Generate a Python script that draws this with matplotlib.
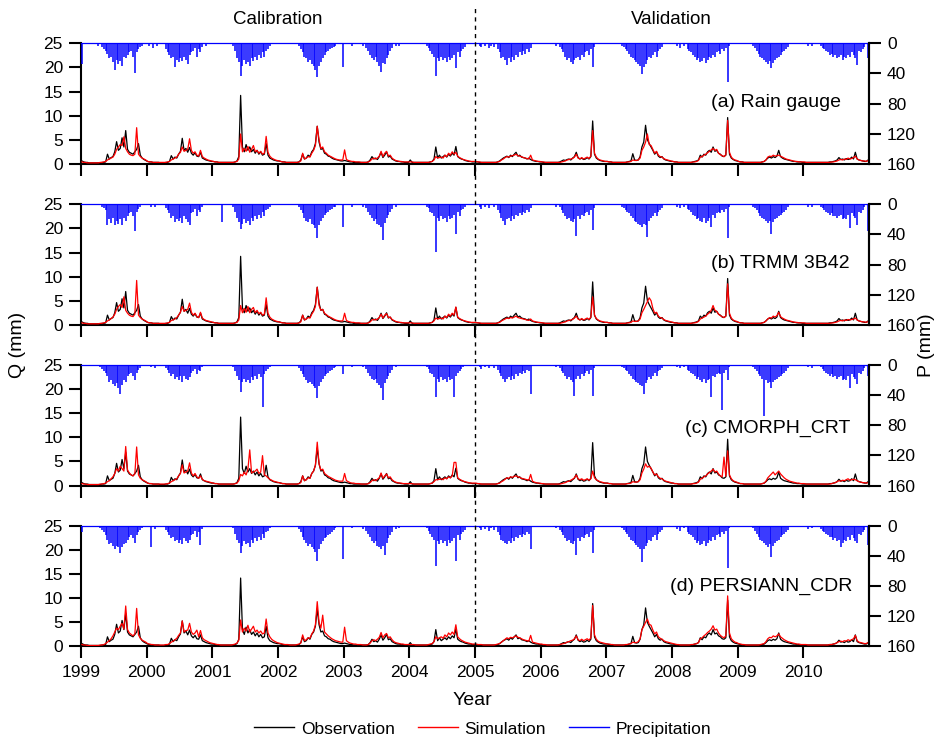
import numpy as np
import matplotlib
matplotlib.use("Agg")
import matplotlib.pyplot as plt
from matplotlib.lines import Line2D
from matplotlib import transforms

plt.rcParams['font.family'] = ['Liberation Sans', 'DejaVu Sans']

# ---------------------------------------------------------------------------
# Data: dekadal (10-day) series, one row of 36 values per year 1999-2010
# ---------------------------------------------------------------------------
years = np.arange(1999, 2011)
year_labels = [str(y) for y in years]
q_ticks = [0, 5, 10, 15, 20, 25]
p_ticks = [0, 40, 80, 120, 160]
panel_titles = ["(a) Rain gauge", "(b) TRMM 3B42", "(c) CMORPH_CRT", "(d) PERSIANN_CDR"]
period_names = ["Calibration", "Validation"]
split_year = 2005

# observed streamflow Q (mm)
q_obs = [
    [0.6,0.4,0.3,0.3,0.2,0.2,0.2,0.2,0.2,0.2,0.2,0.3,0.3,0.4,2.0,1.0,1.3,1.5,2.5,4.6,2.8,3.2,5.4,3.5,6.9,3.0,2.4,2.2,2.0,2.5,3.0,4.2,1.8,1.2,0.9,0.7],
    [0.5,0.4,0.4,0.3,0.3,0.3,0.3,0.2,0.2,0.2,0.3,0.3,0.5,1.7,1.0,1.4,1.2,2.0,2.6,5.3,2.8,3.2,2.4,3.4,2.2,1.8,2.3,1.6,1.5,2.4,1.2,1.0,0.8,0.7,0.6,0.5],
    [0.5,0.4,0.4,0.3,0.3,0.3,0.3,0.3,0.3,0.3,0.3,0.3,0.4,0.6,1.5,14.2,3.5,2.5,4.0,2.8,3.5,2.5,3.0,2.2,2.8,2.0,2.5,1.8,2.0,4.2,1.8,1.2,1.0,0.8,0.7,0.6],
    [0.6,0.5,0.4,0.4,0.3,0.3,0.3,0.3,0.3,0.3,0.3,0.4,0.8,2.0,1.0,1.2,1.8,1.5,2.5,3.0,4.2,7.8,4.5,3.0,3.2,2.2,2.0,1.6,1.5,1.2,1.0,0.9,0.8,0.7,0.6,0.6],
    [0.7,0.6,0.5,0.4,0.4,0.3,0.3,0.3,0.3,0.3,0.3,0.3,0.3,0.4,0.8,1.5,1.0,1.2,0.9,1.5,2.4,1.3,1.8,2.5,1.4,1.6,1.0,0.8,0.6,0.5,0.5,0.4,0.4,0.3,0.3,0.3],
    [0.8,0.3,0.3,0.3,0.3,0.3,0.3,0.3,0.3,0.3,0.3,0.4,0.5,1.0,3.5,1.2,1.8,1.2,1.5,1.8,1.4,2.0,1.6,2.2,1.8,3.6,1.5,1.2,1.0,0.9,0.7,0.6,0.5,0.5,0.4,0.4],
    [0.4,0.4,0.3,0.3,0.3,0.3,0.3,0.3,0.3,0.3,0.3,0.3,0.4,0.6,0.9,1.2,1.4,1.6,1.3,1.8,1.5,2.0,2.4,1.6,1.8,1.4,1.3,1.2,1.0,1.2,0.9,0.7,0.6,0.5,0.5,0.4],
    [0.4,0.3,0.3,0.3,0.3,0.3,0.3,0.3,0.3,0.3,0.4,0.6,0.8,0.7,0.9,1.0,0.8,1.2,1.5,2.4,1.3,1.0,1.2,0.9,1.0,1.3,1.0,1.5,8.9,2.0,1.2,0.9,0.7,0.6,0.5,0.5],
    [0.5,0.4,0.4,0.3,0.3,0.3,0.3,0.3,0.3,0.3,0.3,0.4,0.5,0.6,2.1,0.8,0.7,0.8,1.5,3.5,4.5,8.0,5.0,4.2,3.5,2.8,2.0,2.5,1.6,1.3,1.5,1.0,0.8,0.7,0.6,0.5],
    [0.5,0.4,0.4,0.3,0.3,0.3,0.3,0.3,0.3,0.3,0.3,0.4,0.5,0.6,0.8,1.8,1.4,2.0,1.8,2.5,2.8,2.4,3.5,2.6,2.8,2.2,2.0,1.6,1.5,1.8,9.6,2.0,1.2,0.9,0.7,0.6],
    [0.5,0.4,0.4,0.3,0.3,0.3,0.3,0.3,0.3,0.3,0.3,0.3,0.3,0.4,0.5,0.8,1.2,1.4,1.2,1.5,1.3,1.6,2.8,1.5,1.2,1.0,0.9,0.8,0.7,0.6,0.5,0.5,0.4,0.4,0.4,0.3],
    [0.3,0.3,0.3,0.3,0.3,0.3,0.3,0.3,0.3,0.3,0.3,0.3,0.3,0.3,0.4,0.4,0.5,0.6,0.8,1.3,0.9,1.0,0.8,1.1,0.9,1.0,1.4,1.0,2.4,1.0,0.8,0.7,0.6,0.5,0.5,0.8],
]

# simulated streamflow Q (mm) driven by each precipitation product
q_sim_gauge = [
    [0.4,0.3,0.3,0.2,0.2,0.2,0.2,0.2,0.2,0.2,0.3,0.3,0.4,0.5,0.8,1.0,1.2,1.4,2.0,3.0,3.5,4.0,3.8,5.6,3.2,2.5,2.0,1.8,1.7,2.0,7.5,2.0,1.5,1.2,1.0,0.8],
    [0.5,0.4,0.4,0.3,0.3,0.3,0.3,0.3,0.3,0.3,0.3,0.4,0.5,0.8,1.0,1.2,1.4,2.0,2.4,3.5,2.6,2.8,3.0,5.2,2.8,2.2,2.5,1.8,1.6,2.8,1.5,1.2,1.0,0.8,0.7,0.6],
    [0.5,0.4,0.4,0.3,0.3,0.3,0.3,0.3,0.3,0.3,0.3,0.3,0.4,0.5,1.0,6.2,2.5,3.2,2.6,3.6,2.4,3.0,3.8,2.5,2.8,2.2,2.6,2.0,2.2,5.7,2.4,1.6,1.2,1.0,0.8,0.7],
    [0.6,0.5,0.4,0.4,0.3,0.3,0.3,0.3,0.3,0.3,0.3,0.4,0.6,2.2,1.0,1.2,1.5,1.4,2.2,2.8,3.8,7.8,5.0,3.2,3.5,2.5,2.2,1.8,1.6,1.4,1.2,1.0,0.9,0.8,0.8,0.8],
    [2.9,0.9,0.7,0.6,0.5,0.5,0.4,0.4,0.4,0.3,0.3,0.3,0.3,0.4,0.6,1.0,1.2,1.0,1.2,1.6,2.6,1.5,2.2,2.6,1.6,1.8,1.2,0.9,0.7,0.6,0.5,0.5,0.4,0.4,0.4,0.4],
    [0.4,0.4,0.3,0.3,0.3,0.3,0.3,0.3,0.3,0.3,0.3,0.4,0.5,0.8,1.5,1.2,1.3,1.4,1.2,1.8,1.5,2.2,1.8,2.5,2.0,2.4,1.6,1.3,1.1,0.9,0.8,0.7,0.6,0.5,0.5,0.5],
    [0.5,0.4,0.4,0.3,0.3,0.3,0.3,0.3,0.3,0.3,0.3,0.3,0.4,0.5,0.8,1.0,1.3,1.5,1.4,1.6,1.7,1.8,2.0,1.7,1.6,1.5,1.3,1.2,1.1,1.0,1.8,0.8,0.7,0.6,0.5,0.5],
    [0.4,0.4,0.3,0.3,0.3,0.3,0.3,0.3,0.3,0.3,0.3,0.4,0.5,0.6,0.8,0.9,1.0,1.1,1.4,2.0,1.2,1.0,1.3,1.0,1.2,1.4,1.1,1.6,6.9,2.2,1.4,1.0,0.8,0.7,0.6,0.5],
    [0.5,0.4,0.4,0.3,0.3,0.3,0.3,0.3,0.3,0.3,0.3,0.4,0.4,0.5,0.8,0.7,0.7,0.8,1.2,2.8,3.5,4.5,6.2,4.0,3.8,3.0,2.2,2.6,1.8,1.5,1.4,1.1,0.9,0.8,0.7,0.6],
    [0.5,0.4,0.4,0.3,0.3,0.3,0.3,0.3,0.3,0.3,0.3,0.4,0.4,0.5,0.7,1.4,1.5,1.8,2.0,2.3,2.6,2.9,3.2,2.8,3.0,2.2,1.9,1.7,1.5,1.9,9.0,2.4,1.4,1.0,0.8,0.7],
    [0.5,0.4,0.4,0.3,0.3,0.3,0.3,0.3,0.3,0.3,0.3,0.3,0.3,0.4,0.5,0.8,1.4,1.6,1.5,1.8,1.6,1.7,1.8,1.6,1.4,1.2,1.0,0.9,0.8,0.7,0.6,0.5,0.5,0.4,0.4,0.4],
    [0.4,0.3,0.3,0.3,0.3,0.3,0.3,0.3,0.3,0.3,0.3,0.3,0.3,0.3,0.3,0.4,0.4,0.5,0.6,0.8,0.9,0.8,1.0,0.9,1.2,1.0,1.1,1.3,1.6,1.0,0.8,0.7,0.6,0.6,0.5,0.7],
]

q_sim_trmm = [
    [0.4,0.3,0.3,0.2,0.2,0.2,0.2,0.2,0.2,0.2,0.3,0.3,0.4,0.5,0.8,1.0,1.3,1.6,2.2,3.2,3.8,4.2,3.6,5.8,3.0,2.4,2.0,1.8,1.7,2.2,9.2,2.0,1.5,1.2,1.0,0.8],
    [0.5,0.4,0.4,0.3,0.3,0.3,0.3,0.3,0.3,0.3,0.3,0.4,0.5,0.9,1.0,1.2,1.5,2.0,2.6,3.8,2.8,3.0,3.2,4.5,2.6,2.0,2.4,1.7,1.5,2.6,1.4,1.1,0.9,0.8,0.7,0.6],
    [0.5,0.4,0.4,0.3,0.3,0.3,0.3,0.3,0.3,0.3,0.3,0.3,0.4,0.5,1.0,4.0,2.5,3.4,2.6,3.8,2.5,3.2,3.6,2.5,3.0,2.3,2.6,2.0,2.2,5.6,2.4,1.6,1.2,1.0,0.8,0.7],
    [0.6,0.5,0.4,0.4,0.3,0.3,0.3,0.3,0.3,0.3,0.3,0.4,0.6,2.0,1.0,1.2,1.5,1.4,2.2,2.8,3.8,7.8,4.0,3.0,3.2,2.4,2.1,1.8,1.6,1.4,1.2,1.0,0.9,0.8,0.8,0.8],
    [2.4,0.9,0.7,0.6,0.5,0.5,0.4,0.4,0.4,0.3,0.3,0.3,0.3,0.4,0.6,1.0,1.1,1.0,1.2,1.5,2.2,1.4,2.0,2.3,1.5,1.6,1.1,0.9,0.7,0.6,0.5,0.5,0.4,0.4,0.4,0.4],
    [0.4,0.4,0.3,0.3,0.3,0.3,0.3,0.3,0.3,0.3,0.3,0.4,0.5,0.8,1.4,1.2,1.3,1.4,1.2,1.8,1.5,2.2,1.8,2.4,2.0,3.7,1.6,1.3,1.1,0.9,0.8,0.7,0.6,0.5,0.5,0.5],
    [0.5,0.4,0.4,0.3,0.3,0.3,0.3,0.3,0.3,0.3,0.3,0.3,0.4,0.5,0.8,1.0,1.2,1.4,1.3,1.5,1.4,1.6,1.8,1.5,1.4,1.3,1.2,1.1,1.0,0.9,1.2,0.8,0.7,0.6,0.5,0.5],
    [0.4,0.4,0.3,0.3,0.3,0.3,0.3,0.3,0.3,0.3,0.3,0.4,0.5,0.6,0.8,0.9,1.0,1.1,1.4,1.8,1.2,1.0,1.3,1.0,1.2,1.4,1.1,1.6,5.8,2.0,1.3,1.0,0.8,0.7,0.6,0.5],
    [0.5,0.4,0.4,0.3,0.3,0.3,0.3,0.3,0.3,0.3,0.3,0.4,0.4,0.5,0.8,0.7,0.7,0.8,1.2,2.5,3.2,4.0,4.8,5.6,5.0,3.4,2.4,2.6,1.8,1.5,1.4,1.1,0.9,0.8,0.7,0.6],
    [0.5,0.4,0.4,0.3,0.3,0.3,0.3,0.3,0.3,0.3,0.3,0.4,0.4,0.5,0.7,1.2,1.4,1.6,1.8,2.2,2.5,3.0,4.0,3.0,2.8,2.2,1.9,1.7,1.5,1.8,8.5,2.4,1.4,1.0,0.8,0.7],
    [0.5,0.4,0.4,0.3,0.3,0.3,0.3,0.3,0.3,0.3,0.3,0.3,0.3,0.4,0.5,0.8,1.2,1.5,1.4,1.8,1.6,1.9,2.6,1.7,1.4,1.2,1.0,0.9,0.8,0.7,0.6,0.5,0.5,0.4,0.4,0.4],
    [0.4,0.3,0.3,0.3,0.3,0.3,0.3,0.3,0.3,0.3,0.3,0.3,0.3,0.3,0.3,0.4,0.4,0.5,0.6,0.8,0.9,0.8,1.0,0.9,1.1,1.0,1.1,1.2,1.4,1.0,0.8,0.7,0.6,0.6,0.5,0.7],
]

q_sim_cmorph = [
    [0.4,0.3,0.3,0.2,0.2,0.2,0.2,0.2,0.2,0.2,0.3,0.3,0.4,0.5,0.8,1.0,1.4,1.8,2.5,3.5,3.0,4.0,3.5,3.0,8.1,3.2,2.6,2.2,2.0,2.4,8.0,2.2,1.5,1.2,1.0,0.8],
    [0.5,0.4,0.4,0.3,0.3,0.3,0.3,0.3,0.3,0.3,0.3,0.4,0.5,0.8,1.0,1.2,1.4,2.0,2.5,4.3,2.6,2.8,3.0,4.7,2.6,2.0,2.5,1.8,1.5,2.0,1.3,1.0,0.9,0.8,0.7,0.6],
    [0.5,0.4,0.4,0.3,0.3,0.3,0.3,0.3,0.3,0.3,0.3,0.3,0.4,0.5,1.0,2.3,2.0,2.8,2.2,3.4,7.4,2.6,2.8,3.0,3.4,2.5,2.8,6.2,2.2,2.0,1.6,1.3,1.1,0.9,0.8,0.7],
    [0.6,0.5,0.4,0.4,0.3,0.3,0.3,0.3,0.3,0.3,0.3,0.4,0.6,2.0,1.0,1.2,1.6,1.5,2.5,3.0,4.2,9.0,4.5,3.2,3.4,2.5,2.2,1.9,1.7,1.5,1.3,1.1,1.0,0.9,0.9,0.9],
    [2.5,1.0,0.8,0.6,0.5,0.5,0.4,0.4,0.4,0.3,0.3,0.3,0.3,0.4,0.6,1.0,1.2,1.0,1.3,1.6,2.6,1.5,2.0,2.4,1.6,1.8,1.2,0.9,0.7,0.6,0.5,0.5,0.4,0.4,0.4,0.4],
    [0.4,0.4,0.3,0.3,0.3,0.3,0.3,0.3,0.3,0.3,0.3,0.4,0.5,0.8,1.2,1.2,1.3,1.4,1.2,1.6,1.4,1.8,1.6,2.0,4.8,4.8,1.6,1.3,1.1,0.9,0.8,0.7,0.6,0.5,0.5,0.5],
    [0.5,0.4,0.4,0.3,0.3,0.3,0.3,0.3,0.3,0.3,0.3,0.3,0.4,0.5,0.8,1.0,1.3,1.6,1.5,1.8,1.7,1.9,2.0,1.8,1.7,1.5,1.4,1.3,1.2,1.1,2.3,0.9,0.7,0.6,0.5,0.5],
    [0.4,0.4,0.3,0.3,0.3,0.3,0.3,0.3,0.3,0.3,0.3,0.4,0.5,0.6,0.8,0.9,1.1,1.3,1.6,2.2,1.4,1.2,1.4,1.1,1.2,1.4,1.1,1.4,3.0,1.6,1.2,1.0,0.8,0.7,0.6,0.5],
    [0.5,0.4,0.4,0.3,0.3,0.3,0.3,0.3,0.3,0.3,0.3,0.4,0.4,0.5,0.8,0.7,0.7,0.8,1.2,2.6,3.4,4.5,3.8,4.0,3.6,2.8,2.2,2.4,1.8,1.5,1.4,1.1,0.9,0.8,0.7,0.6],
    [0.5,0.4,0.4,0.3,0.3,0.3,0.3,0.3,0.3,0.3,0.3,0.4,0.4,0.5,0.7,1.3,1.5,1.8,2.0,2.4,2.7,3.0,3.4,2.8,3.0,2.4,2.0,1.8,5.9,1.9,7.2,2.2,1.4,1.0,0.8,0.7],
    [0.5,0.4,0.4,0.3,0.3,0.3,0.3,0.3,0.3,0.3,0.3,0.3,0.3,0.4,0.5,0.9,1.6,2.0,2.4,2.8,2.2,2.6,3.0,2.4,2.0,1.6,1.3,1.1,0.9,0.8,0.7,0.6,0.5,0.5,0.4,0.4],
    [0.4,0.3,0.3,0.3,0.3,0.3,0.3,0.3,0.3,0.3,0.3,0.3,0.3,0.3,0.3,0.4,0.5,0.6,0.8,1.0,0.9,1.1,1.0,1.2,1.4,1.1,1.2,1.3,1.2,1.0,0.8,0.7,0.6,0.6,0.5,0.6],
]

q_sim_persiann = [
    [0.4,0.3,0.3,0.2,0.2,0.2,0.2,0.2,0.2,0.2,0.3,0.3,0.4,0.6,0.9,1.2,1.6,2.2,3.0,3.8,3.5,4.2,4.8,3.6,8.4,3.5,2.8,2.5,2.2,2.6,7.9,2.4,1.7,1.3,1.1,0.9],
    [0.6,0.5,0.4,0.4,0.3,0.3,0.3,0.3,0.3,0.3,0.4,0.4,0.6,0.9,1.1,1.4,1.7,2.3,2.8,5.3,3.0,3.3,3.4,4.8,3.0,2.5,2.8,3.4,2.0,3.3,1.8,1.4,1.2,1.0,0.8,0.7],
    [0.6,0.5,0.4,0.4,0.3,0.3,0.3,0.3,0.3,0.3,0.3,0.4,0.5,0.7,1.3,5.5,3.0,3.8,3.2,4.4,3.0,3.6,4.2,3.0,3.4,2.8,3.2,2.6,2.8,5.7,2.8,2.0,1.5,1.2,1.0,0.8],
    [0.7,0.6,0.5,0.4,0.4,0.4,0.3,0.3,0.3,0.3,0.4,0.5,0.7,2.4,1.2,1.4,1.8,1.7,2.6,3.2,4.5,9.3,5.0,3.8,6.5,3.0,2.6,2.2,1.9,1.6,1.4,1.2,1.1,1.0,0.9,0.9],
    [4.0,1.2,0.9,0.7,0.6,0.5,0.5,0.4,0.4,0.4,0.3,0.3,0.3,0.4,0.7,1.2,1.4,1.2,1.5,1.9,2.9,1.8,2.4,2.7,1.8,2.0,1.4,1.0,0.8,0.7,0.6,0.5,0.5,0.4,0.4,0.4],
    [0.4,0.4,0.4,0.3,0.3,0.3,0.3,0.3,0.3,0.3,0.4,0.5,0.6,1.0,2.0,1.6,1.8,2.0,1.7,2.4,2.0,2.8,2.4,3.0,2.5,4.5,2.0,1.6,1.3,1.1,0.9,0.8,0.7,0.6,0.5,0.5],
    [0.5,0.4,0.4,0.4,0.3,0.3,0.3,0.3,0.3,0.3,0.3,0.4,0.5,0.6,0.9,1.2,1.5,1.8,1.6,1.9,1.8,2.0,2.2,1.9,1.8,1.6,1.4,1.3,1.2,1.1,2.3,0.9,0.8,0.7,0.6,0.5],
    [0.5,0.4,0.4,0.3,0.3,0.3,0.3,0.3,0.3,0.3,0.4,0.5,0.6,0.7,0.9,1.0,1.2,1.3,1.6,2.2,1.4,1.2,1.5,1.2,1.4,1.6,1.3,1.8,8.5,2.4,1.5,1.1,0.9,0.8,0.7,0.6],
    [0.5,0.5,0.4,0.4,0.3,0.3,0.3,0.3,0.3,0.3,0.4,0.4,0.5,0.6,0.9,0.8,0.8,1.0,1.6,3.5,4.2,5.0,5.7,4.6,4.4,3.4,2.6,3.0,2.0,1.7,1.5,1.2,1.0,0.9,0.8,0.7],
    [0.6,0.5,0.4,0.4,0.3,0.3,0.3,0.3,0.3,0.3,0.4,0.4,0.5,0.6,0.8,1.6,1.8,2.2,2.5,2.9,3.2,3.6,4.3,3.4,3.6,2.8,2.3,2.0,1.8,2.2,10.5,2.8,1.6,1.2,0.9,0.8],
    [0.6,0.5,0.4,0.4,0.3,0.3,0.3,0.3,0.3,0.3,0.3,0.3,0.4,0.5,0.6,1.0,1.6,1.9,1.8,2.2,2.0,2.2,2.6,2.0,1.7,1.4,1.2,1.0,0.9,0.8,0.7,0.6,0.5,0.5,0.4,0.4],
    [0.4,0.4,0.3,0.3,0.3,0.3,0.3,0.3,0.3,0.3,0.3,0.3,0.3,0.3,0.4,0.4,0.5,0.6,0.8,1.0,1.1,1.0,1.2,1.1,1.4,1.2,1.4,1.6,2.3,1.2,0.9,0.8,0.7,0.6,0.6,0.8],
]

# precipitation P (mm) for each product
p_gauge = [
    [27,0,0,0,0,0,0,0,0,3,0,5,8,10,14,20,18,25,35,22,28,24,30,18,20,15,12,10,18,40,12,8,5,3,0,0],
    [0,4,0,6,0,3,0,0,0,0,8,12,15,20,18,31,22,25,20,24,18,22,28,15,12,10,6,18,8,12,5,0,4,0,0,0],
    [0,0,0,0,0,0,0,0,0,0,0,3,10,20,25,44,30,22,28,25,30,20,24,18,22,15,20,12,18,10,8,4,0,0,0,0],
    [0,0,0,0,0,0,0,0,0,0,0,4,8,12,18,20,25,22,28,30,35,45,30,25,20,15,12,10,8,6,5,3,0,0,0,31],
    [0,0,0,0,3,0,0,0,0,0,4,0,6,10,15,20,22,18,25,30,38,26,28,20,15,10,6,0,4,0,3,0,0,0,0,0],
    [0,0,0,0,0,0,0,0,0,3,6,10,14,18,44,20,24,18,22,20,25,18,22,20,15,33,12,18,10,8,5,0,0,0,0,0],
    [0,0,3,5,0,4,0,6,3,0,5,0,8,12,20,18,22,29,20,25,18,22,15,18,12,15,10,14,8,12,6,0,0,0,0,0],
    [0,0,0,0,0,0,0,0,3,0,5,8,12,18,22,20,25,27,22,20,18,22,15,18,12,10,15,8,32,5,0,0,0,0,0,0],
    [0,0,0,0,0,0,0,0,3,5,8,10,14,18,20,22,25,28,30,41,32,28,22,18,20,15,12,18,10,8,5,0,0,0,0,0],
    [0,0,4,0,6,0,3,0,8,10,12,15,18,22,20,25,24,20,26,22,18,20,15,18,12,10,14,8,10,6,51,3,0,0,0,0],
    [0,0,0,0,0,0,0,0,3,6,10,14,18,20,22,25,28,24,33,26,22,20,18,15,12,10,8,5,0,0,0,0,0,0,0,0],
    [0,0,4,0,3,0,0,0,0,4,6,8,10,12,15,14,18,16,20,18,15,22,18,20,15,18,12,16,20,29,10,12,8,5,0,20],
]

p_trmm = [
    [0,0,0,0,0,0,0,0,0,0,0,3,5,8,28,20,25,18,28,22,26,20,28,18,22,15,12,10,15,36,10,6,4,0,0,0],
    [0,0,3,0,4,0,0,0,0,0,5,8,12,18,15,24,20,22,18,25,16,20,24,28,12,10,6,15,8,10,4,0,0,0,0,0],
    [0,0,0,0,0,23,0,0,0,0,0,3,10,18,24,33,26,20,25,22,28,18,22,16,20,14,18,10,15,8,6,3,0,0,0,0],
    [0,0,0,0,0,0,0,0,0,0,0,4,8,12,18,22,24,20,26,28,32,45,28,22,18,14,12,10,8,6,4,3,0,0,0,30],
    [0,0,0,0,3,0,0,0,0,0,3,0,5,10,14,18,22,20,26,28,30,47,25,18,14,10,6,0,3,0,0,0,0,0,0,0],
    [0,0,0,0,0,0,0,0,0,3,5,10,12,16,63,18,22,16,20,18,24,16,20,18,14,39,10,15,8,6,4,0,0,0,0,0],
    [0,0,4,6,0,3,0,5,0,0,4,0,8,12,18,22,27,20,18,22,16,20,14,16,12,14,10,12,8,10,5,0,0,0,0,0],
    [0,0,0,0,0,0,0,0,3,0,4,8,12,16,20,18,22,24,20,42,16,20,14,16,12,10,14,8,34,5,0,0,0,0,0,0],
    [0,0,0,0,0,0,0,0,3,5,8,10,12,16,18,22,24,26,28,30,26,28,43,22,18,15,12,16,10,8,5,0,0,0,0,0],
    [0,0,3,0,5,0,3,0,6,8,10,14,16,20,18,22,24,18,25,22,18,30,14,18,12,10,12,8,10,6,45,3,0,0,0,0],
    [0,0,0,0,0,0,0,0,3,5,8,12,16,18,20,22,25,22,40,24,20,18,16,14,12,10,8,4,0,0,0,0,0,0,0,0],
    [0,0,3,0,4,0,0,0,0,3,5,8,10,12,14,12,16,15,18,16,14,20,18,20,14,32,12,16,18,28,10,12,8,4,0,36],
]

p_cmorph = [
    [0,0,0,0,0,0,0,0,0,0,3,5,8,10,15,22,20,25,28,24,30,39,26,20,22,15,12,10,14,20,10,6,4,0,0,0],
    [0,0,3,0,4,0,0,0,0,0,4,6,10,14,12,18,16,20,15,22,14,18,20,16,10,8,5,12,6,8,3,0,0,0,0,0],
    [0,0,0,0,0,0,0,0,0,0,0,3,8,14,20,36,22,18,22,20,24,16,20,14,18,12,16,56,12,8,5,3,0,0,0,0],
    [0,0,0,0,0,0,0,0,0,0,0,4,8,12,16,20,24,22,25,28,30,44,28,22,18,14,12,10,8,6,4,3,0,0,0,12],
    [0,0,0,0,3,0,0,0,0,0,3,0,5,10,14,18,20,18,24,26,30,46,24,18,14,10,6,0,3,0,0,0,0,0,0,0],
    [0,0,0,0,0,0,0,0,0,3,5,10,12,16,42,18,22,16,20,18,22,16,20,18,43,14,10,8,5,3,0,0,0,0,0,0],
    [0,0,3,5,0,3,0,4,0,0,4,0,6,10,15,18,22,18,16,20,14,18,12,14,10,12,8,10,6,8,39,0,0,0,0,0],
    [0,0,0,0,0,0,0,0,3,0,4,8,10,15,18,16,20,22,41,18,14,18,12,14,10,8,12,6,41,4,0,0,0,0,0,0],
    [0,0,0,0,0,0,0,0,3,4,6,8,12,15,18,20,22,24,26,28,38,24,20,16,18,14,10,14,8,6,4,0,0,0,0,0],
    [0,0,3,0,4,0,3,0,6,8,10,12,15,18,16,20,22,18,24,20,18,42,14,16,12,10,12,60,10,6,20,3,0,0,0,0],
    [0,0,0,0,0,0,0,0,3,5,8,12,15,18,68,20,24,22,30,22,20,18,16,14,12,10,8,4,0,0,0,0,0,0,0,0],
    [0,0,3,0,4,0,0,0,0,3,5,8,10,12,14,12,16,15,18,16,14,20,18,20,14,31,12,16,18,25,10,12,8,4,0,15],
]

p_persiann = [
    [8,0,0,0,0,0,0,0,0,0,3,5,8,12,18,24,22,26,30,26,28,36,28,24,22,18,14,12,16,22,12,8,5,3,0,0],
    [0,0,28,0,4,0,0,0,0,0,5,8,12,16,14,20,18,22,18,24,16,20,22,18,12,10,6,14,8,25,4,0,0,0,0,0],
    [0,0,0,0,0,0,0,0,0,0,0,3,10,18,22,36,26,20,24,22,28,18,22,16,20,14,18,10,16,8,6,3,0,0,0,0],
    [0,0,0,0,0,0,0,0,0,0,0,4,8,14,18,22,26,24,28,30,34,47,30,24,20,16,14,12,10,8,5,3,0,0,0,44],
    [0,0,0,0,3,0,0,0,0,0,4,0,6,10,15,20,22,20,26,28,30,26,38,22,16,12,8,0,4,0,3,0,0,0,0,0],
    [0,0,0,0,0,0,0,0,0,3,6,10,14,18,53,20,24,18,22,20,26,18,22,20,16,46,12,18,10,8,5,0,0,0,0,0],
    [0,0,3,5,0,4,0,6,3,0,5,0,8,12,18,20,22,24,20,22,16,20,14,16,12,14,10,12,8,10,30,0,0,0,0,0],
    [0,0,0,0,0,0,0,0,3,0,5,8,12,16,20,18,22,24,20,38,16,20,14,16,12,10,14,8,36,5,0,0,0,0,0,0],
    [0,0,0,0,0,0,0,0,3,5,8,10,14,18,20,22,25,28,30,48,30,26,22,18,20,15,12,18,10,8,5,0,0,0,0,0],
    [0,0,4,0,6,0,3,0,8,10,12,15,18,22,20,25,24,20,26,22,18,20,15,18,12,10,14,8,10,6,56,3,0,0,0,0],
    [0,0,0,0,0,0,0,0,3,6,10,14,18,20,22,25,28,24,41,26,22,20,18,15,12,10,8,5,0,0,0,0,0,0,0,0],
    [0,0,4,0,3,0,0,0,0,4,6,8,10,12,15,14,18,16,20,18,28,22,18,20,15,18,12,16,20,22,10,12,8,5,0,25],
]

# ---------------------------------------------------------------------------
# Figure
# ---------------------------------------------------------------------------
BLUE = '#0000ff'
RED = '#ff0000'

# time axis: centre of each dekad, in decimal years
dekad_offsets = (np.arange(36) + 0.5) / 36.0
t = (years[:, None] + dekad_offsets[None, :]).ravel()

sims = [q_sim_gauge, q_sim_trmm, q_sim_cmorph, q_sim_persiann]
precs = [p_gauge, p_trmm, p_cmorph, p_persiann]
obs = np.asarray(q_obs).ravel()

fig = plt.figure(figsize=(9.41, 7.40), dpi=100)
fig.patch.set_facecolor('white')

left, width, height = 0.0861, 0.8374, 0.1628
bottoms = [0.7786, 0.5611, 0.3439, 0.1264]
label_x = [0.9645, 0.9759, 0.9759, 0.9784]
label_y = [0.507, 0.505, 0.475, 0.502]

tick_kw = dict(direction='out', length=8.5, width=1.5, labelsize=12.5, pad=4.5)

axes = []
for i in range(4):
    ax = fig.add_axes([left, bottoms[i], width, height])
    ax.set_facecolor('none')
    ax.plot(t, obs, color='black', lw=0.9, zorder=2)
    ax.plot(t, np.asarray(sims[i]).ravel(), color=RED, lw=0.9, zorder=3)
    ax.set_xlim(1999, 2011)
    ax.set_ylim(0, 25)
    ax.set_yticks(q_ticks)
    ax.set_xticks(years)
    if i == 3:
        ax.set_xticklabels(year_labels)
    else:
        ax.set_xticklabels([])
    ax.tick_params(axis='both', **tick_kw)
    ax.spines['top'].set_visible(False)
    for s in ('left', 'bottom', 'right'):
        ax.spines[s].set_linewidth(1.5)
    ax.text(label_x[i], label_y[i], panel_titles[i], transform=ax.transAxes,
            ha='right', va='center', fontsize=14)

    # precipitation hangs from the top on an inverted right-hand axis
    ax2 = ax.twinx()
    p = np.asarray(precs[i]).ravel()
    ax2.vlines(t, 0, p, color=BLUE, lw=1.1)
    ax2.axhline(0, color=BLUE, lw=0.9, clip_on=False)
    ax2.set_ylim(160, 0)
    ax2.set_yticks(p_ticks)
    ax2.tick_params(axis='y', **tick_kw)
    ax2.spines['top'].set_visible(False)
    ax2.spines['left'].set_visible(False)
    ax2.spines['bottom'].set_visible(False)
    ax2.spines['right'].set_linewidth(1.5)
    axes.append(ax)

# calibration / validation split
trans = transforms.blended_transform_factory(axes[3].transData, fig.transFigure)
fig.add_artist(Line2D([split_year, split_year], [bottoms[3], 0.990], transform=trans,
                      color='black', lw=1.0, linestyle=(0, (3, 3))))

fig.text(0.2954, 0.973, period_names[0], ha='center', va='center', fontsize=13.5)
fig.text(0.7136, 0.973, period_names[1], ha='center', va='center', fontsize=13.5)

fig.text(0.019, 0.534, "Q (mm)", rotation=90, ha='center', va='center', fontsize=14)
fig.text(0.985, 0.534, "P (mm)", rotation=90, ha='center', va='center', fontsize=14)
fig.text(0.502, 0.054, "Year", ha='center', va='center', fontsize=14)

handles = [Line2D([], [], color='black', lw=1.0),
           Line2D([], [], color=RED, lw=1.0),
           Line2D([], [], color=BLUE, lw=1.0)]
fig.legend(handles, ["Observation", "Simulation", "Precipitation"],
           loc='center', bbox_to_anchor=(0.513, 0.0149), ncol=3, frameon=False,
           fontsize=12.5, handlelength=2.3, columnspacing=1.3, handletextpad=0.4)

fig.savefig("out.png", dpi=100)
